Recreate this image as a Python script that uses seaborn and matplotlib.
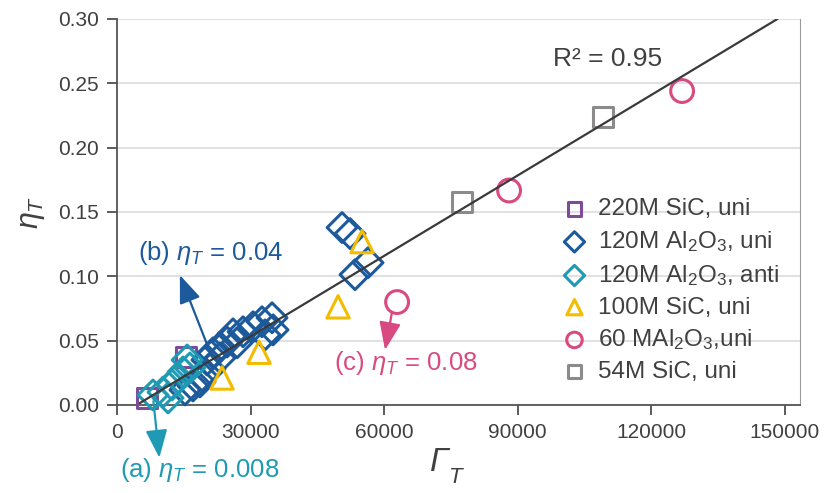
import numpy as np
import pandas as pd
import matplotlib
matplotlib.use('Agg')
import matplotlib.pyplot as plt
import seaborn as sns

sns.set_style('white')
plt.rcParams['font.family'] = ['Liberation Sans', 'DejaVu Sans']
plt.rcParams['mathtext.fontset'] = 'custom'
plt.rcParams['mathtext.rm'] = 'Liberation Sans'
plt.rcParams['mathtext.it'] = 'Liberation Sans:italic'

# Data (Gamma_T, eta_T)
sic220_x = [6750, 15550]
sic220_y = [0.0055, 0.0374]

al120_uni_x = [15270, 17070, 18650, 19100, 20890, 20210, 21560, 23140, 23140, 24720,
               26060, 26960, 28310, 30560, 32570, 33250, 35050, 34820,
               50550, 52350, 53460, 56390]
al120_uni_y = [0.0117, 0.0148, 0.0180, 0.0226, 0.0280, 0.0350, 0.0405, 0.0366, 0.0450, 0.0490,
               0.0553, 0.0483, 0.0569, 0.0608, 0.0647, 0.0545, 0.0584, 0.0678,
               0.1379, 0.1332, 0.1013, 0.1106]

al120_anti_x = [8080, 10330, 12360, 13710, 14830, 16370, 15750, 11460]
al120_anti_y = [0.0078, 0.0100, 0.0156, 0.0210, 0.0257, 0.0288, 0.0350, 0.0055]

sic100_x = [23590, 31900, 49650, 55040]
sic100_y = [0.0210, 0.0410, 0.0763, 0.1270]

al60_x = [62910, 88060, 126920]
al60_y = [0.0800, 0.1667, 0.2440]

sic54_x = [77500, 109150]
sic54_y = [0.1580, 0.2236]

fit_x = [5120, 148330]
fit_y = [0.0015, 0.300]

x_ticks = [0, 30000, 60000, 90000, 120000, 150000]
y_ticks = [0.00, 0.05, 0.10, 0.15, 0.20, 0.25, 0.30]

purple = '#7e4a99'
navy = '#1d5a9c'
teal = '#1f9ab5'
yellow = '#f2bd00'
pink = '#d84a80'
grey = '#8c8a8a'
txt = '#404040'

series = [
    ('220M SiC, uni', sic220_x, sic220_y, 's', purple, 200),
    ('120M Al$_2$O$_3$, uni', al120_uni_x, al120_uni_y, 'D', navy, 230),
    ('120M Al$_2$O$_3$, anti', al120_anti_x, al120_anti_y, 'D', teal, 230),
    ('100M SiC, uni', sic100_x, sic100_y, '^', yellow, 260),
    ('60 MAl$_2$O$_3$,uni', al60_x, al60_y, 'o', pink, 270),
    ('54M SiC, uni', sic54_x, sic54_y, 's', grey, 210),
]

fig = plt.figure(figsize=(8.25, 4.93), dpi=100)
ax = fig.add_axes([0.1418, 0.1785, 0.8279, 0.7830])

for label, xs, ys, m, c, s in series:
    sns.scatterplot(x=xs, y=ys, marker=m, s=s, facecolor='none', edgecolor=c,
                    linewidth=2.2, label=label, ax=ax, clip_on=False, zorder=3)

sns.lineplot(x=fit_x, y=fit_y, color='#3a3a3a', lw=1.6, ax=ax, zorder=5)

ax.set_xlim(0, 153400)
ax.set_ylim(0, 0.30)
ax.set_xticks(x_ticks)
ax.set_xticklabels([str(v) for v in x_ticks])
ax.set_yticks(y_ticks)
ax.set_yticklabels([f'{v:.2f}' for v in y_ticks])
ax.tick_params(axis='both', labelsize=15, colors=txt, length=7, width=1.2, pad=6,
               direction='out')
ax.tick_params(axis='x', bottom=True)
ax.tick_params(axis='y', left=True)
ax.yaxis.grid(True, color='#dcdcdc', lw=1.2)
ax.set_axisbelow(True)
for side in ['left', 'bottom']:
    ax.spines[side].set_color('#555555')
    ax.spines[side].set_linewidth(1.3)
ax.spines['right'].set_color('#9a9a9a')
ax.spines['top'].set_visible(False)

ax.set_xlabel('')
ax.set_ylabel(r'$\eta_T$', fontsize=22, color=txt, labelpad=8)
fig.text(0.533, 0.03, 'Γ', fontsize=24, style='italic', color=txt, ha='center', va='bottom')
fig.text(0.553, 0.010, 'T', fontsize=16, style='italic', color=txt, ha='center', va='bottom')

ax.text(97950, 0.269, 'R² = 0.95', fontsize=19, color=txt, va='center', ha='left')

arrow = '-|>,head_length=0.9,head_width=0.35'
ax.annotate('', xy=(9510, -0.041), xytext=(8180, 0.003), annotation_clip=False,
            arrowprops=dict(arrowstyle=arrow, color=teal, lw=1.6, mutation_scale=19,
                            shrinkA=0, shrinkB=0))
ax.text(675, -0.0506, r'(a) $\eta_T$ = 0.008', fontsize=18.5, color=teal,
        va='center', ha='left', clip_on=False)

ax.annotate('', xy=(14120, 0.101), xytext=(20440, 0.0452),
            arrowprops=dict(arrowstyle=arrow, color=navy, lw=1.6, mutation_scale=19,
                            shrinkA=0, shrinkB=0))
ax.text(4710, 0.1184, r'(b) $\eta_T$ = 0.04', fontsize=18.5, color=navy,
        va='center', ha='left')

ax.annotate('', xy=(60200, 0.0428), xytext=(61780, 0.0724),
            arrowprops=dict(arrowstyle=arrow, color=pink, lw=1.6, mutation_scale=19,
                            shrinkA=0, shrinkB=0))
ax.text(48700, 0.0327, r'(c) $\eta_T$ = 0.08', fontsize=18.5, color=pink,
        va='center', ha='left')

ax.legend(loc='upper left', bbox_to_anchor=(0.652, 0.535), frameon=False,
          fontsize=17.5, markerscale=0.68, handlelength=1.0, handletextpad=0.45,
          labelspacing=0.36, borderpad=0, borderaxespad=0, labelcolor=txt)

fig.savefig('out.png', dpi=100)
